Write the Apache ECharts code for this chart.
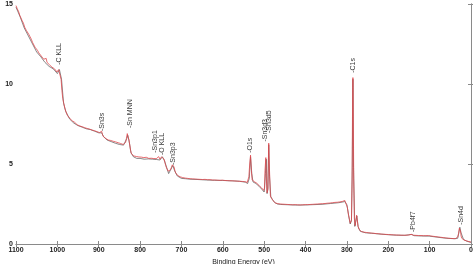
<!DOCTYPE html>
<html>
<head>
<meta charset="utf-8">
<script src="https://cdn.jsdelivr.net/npm/echarts@6/dist/echarts.min.js"></script>
<style>html,body{margin:0;padding:0;background:#fff;}#c{width:473px;height:264px;}</style>
</head>
<body>
<div id="c"></div>
<script>
// Binding energy (eV) / intensity (cts, x10^4) for the red spectrum
const redE = [1100,1097,1094,1091,1088,1085,1082,1079,1077,1075,1072,1069,1066,1063,1060,1057,1054,1051,1048,1045,1042,1039,1036,1033,1030,1027,1025,1022,1019,1016,1013,1010,1007,1004,1001,999,997,995,993,991,989,987,985,982,979,976,973,970,967,964,961,958,955,952,949,946,943,940,937,934,931,928,925,922,919,916,913,910,907,904,901,898,895,893,891,889,886,883,880,877,874,871,868,865,862,859,856,853,850,847,844,841,838,835,833,831,829,827,825,823,821,818,815,812,809,806,803,800,797,794,791,788,785,782,779,776,773,770,767,764,761,758,755,752,750,748,746,744,742,740,738,736,734,732,730,728,726,724,722,720,718,716,714,712,709,706,703,700,697,694,691,688,685,682,679,676,673,670,667,664,661,658,655,652,649,646,643,640,637,634,631,628,625,622,619,616,613,610,607,604,601,598,595,592,589,586,583,580,577,574,571,568,565,562,559,556,553,550,547,544,541,539,537,535,533,531,529,527,524,521,518,515,512,509,506,503,501,499,498,496,495,493,491,489,487,485,482,479,476,473,470,467,464,461,458,455,452,449,446,443,440,437,434,431,428,425,422,419,416,413,410,407,404,401,398,395,392,389,386,383,380,377,374,371,368,365,362,359,356,353,350,347,344,341,338,335,332,329,326,323,320,317,314,311,308,305,302,299,296,294,292,290,289,287.5,286.5,285.5,284.5,283.5,282,280,278,276.5,275,273,271,268,265,262,259,256,253,250,247,244,241,238,235,232,229,226,223,220,217,214,211,208,205,202,199,196,193,190,187,184,181,178,175,172,169,166,163,160,157,154,151,148,145,143,141,139,136,133,130,127,124,121,118,115,112,109,106,103,100,97,94,91,88,85,82,79,76,73,70,67,64,61,58,55,52,49,46,43,40,37,34,32,30,28,27,26,25,24,22,20,17,14,11,8,5,2,0];
const redV = [14.9,14.7,14.55,14.3,14.2,13.95,13.8,13.55,13.65,13.35,13.25,13.1,12.95,12.8,12.6,12.5,12.3,12.2,12.1,11.95,11.9,11.75,11.7,11.55,11.5,11.6,11.35,11.3,11.2,11.2,11.05,11.1,10.95,10.85,10.75,10.65,10.9,11.0,10.8,10.3,9.6,9.1,8.85,8.5,8.25,8.05,7.95,7.85,7.8,7.7,7.65,7.6,7.52,7.45,7.45,7.38,7.36,7.33,7.32,7.27,7.28,7.22,7.23,7.18,7.17,7.12,7.14,7.08,7.08,7.02,7.04,6.96,7.0,7.05,6.85,6.72,6.65,6.6,6.52,6.5,6.45,6.47,6.4,6.42,6.36,6.38,6.3,6.33,6.27,6.28,6.24,6.22,6.2,6.35,6.6,6.9,6.8,6.5,6.2,5.85,5.65,5.55,5.5,5.45,5.47,5.42,5.44,5.4,5.43,5.38,5.4,5.37,5.42,5.38,5.35,5.4,5.36,5.38,5.34,5.4,5.33,5.42,5.46,5.3,5.35,5.45,5.55,5.5,5.3,5.1,4.9,4.75,4.65,4.55,4.5,4.55,4.65,4.8,4.95,5.0,4.82,4.6,4.45,4.35,4.28,4.25,4.2,4.2,4.15,4.17,4.12,4.14,4.1,4.12,4.08,4.11,4.07,4.09,4.06,4.1,4.05,4.08,4.04,4.06,4.03,4.07,4.04,4.05,4.02,4.06,4.02,4.04,4.0,4.03,4.0,4.04,3.99,4.02,3.98,4.03,3.99,4.01,3.97,4.0,3.96,3.99,3.95,3.98,3.95,3.97,3.94,3.97,3.93,3.96,3.92,3.95,3.91,3.94,3.9,3.88,3.85,3.95,4.2,5.0,5.55,4.6,4.0,3.95,3.9,3.86,3.8,3.72,3.65,3.58,3.5,3.42,3.35,3.5,4.6,5.4,4.2,3.2,3.5,6.3,4.5,3.0,2.85,2.72,2.62,2.57,2.55,2.52,2.53,2.5,2.52,2.49,2.51,2.48,2.5,2.47,2.5,2.46,2.49,2.45,2.48,2.46,2.49,2.45,2.47,2.44,2.47,2.45,2.48,2.46,2.49,2.46,2.5,2.47,2.5,2.48,2.52,2.49,2.52,2.5,2.53,2.51,2.54,2.52,2.55,2.53,2.56,2.55,2.58,2.56,2.59,2.58,2.61,2.6,2.63,2.61,2.64,2.63,2.66,2.66,2.7,2.72,2.6,2.3,1.8,1.55,1.3,1.25,1.5,4.0,8.0,10.4,8.0,4.0,1.6,1.15,1.25,1.8,1.5,1.1,0.92,0.82,0.78,0.76,0.74,0.75,0.72,0.73,0.7,0.71,0.68,0.7,0.67,0.68,0.65,0.67,0.64,0.65,0.62,0.64,0.61,0.62,0.6,0.61,0.59,0.61,0.58,0.6,0.57,0.59,0.56,0.58,0.56,0.57,0.55,0.57,0.55,0.56,0.55,0.57,0.56,0.58,0.6,0.64,0.6,0.55,0.53,0.54,0.52,0.53,0.51,0.53,0.51,0.52,0.5,0.52,0.5,0.53,0.52,0.5,0.49,0.48,0.47,0.46,0.45,0.44,0.43,0.42,0.42,0.4,0.4,0.38,0.37,0.36,0.36,0.35,0.34,0.34,0.33,0.34,0.37,0.45,0.65,1.0,1.1,0.95,0.75,0.5,0.35,0.3,0.25,0.22,0.2,0.17,0.15,0.13,0.12];
// underlying dark spectrum
const grayE = [1100,1090,1080,1070,1060,1050,1040,1030,1020,1010,1000,995,990,985,980,970,960,950,940,930,920,910,900,893,888,880,870,860,850,840,832,830,827,822,816,808,800,790,780,770,760,752,746,741,736,731,727,721,716,710,700,690,680,660,640,620,600,580,560,545,540,536,533,530,527,520,512,505,500,497,495,493,491,489,487,484,480,475,468,460,440,420,400,380,360,340,320,305,300,296,292,289,287,285.5,284,281,278,276,273,268,255,240,220,200,180,160,143,138,120,100,80,60,40,32,27,24,18,10,0];
const grayV = [14.8,14.2,13.5,13.0,12.5,12.0,11.7,11.35,11.1,10.95,10.65,10.9,10.3,8.8,8.3,7.8,7.55,7.4,7.3,7.2,7.15,7.05,6.95,6.95,6.7,6.5,6.4,6.3,6.22,6.18,6.6,6.8,6.5,5.7,5.45,5.35,5.35,5.3,5.32,5.3,5.28,5.25,5.45,5.2,4.8,4.4,4.45,4.9,4.55,4.25,4.1,4.08,4.05,4.03,4.0,3.98,3.97,3.95,3.92,3.86,3.78,4.1,5.45,4.4,3.88,3.78,3.6,3.4,3.25,4.4,5.3,3.15,3.4,6.2,4.2,2.95,2.78,2.6,2.5,2.47,2.45,2.43,2.44,2.46,2.48,2.53,2.58,2.65,2.45,1.8,1.25,1.45,4.8,10.3,4.8,1.1,1.15,1.75,1.1,0.8,0.7,0.67,0.62,0.58,0.55,0.54,0.6,0.52,0.5,0.49,0.42,0.36,0.33,0.36,1.05,0.7,0.28,0.17,0.1];
// peak annotations: label, energy, anchor height (cts)
const peakNames = ['-C KLL','-Sn3s','-Sn MNN','-Sn3p1','-O KLL','-Sn3p3','-O1s','-Sn3d3','-Sn3d5','-C1s','-Pb4f7','-Sn4d'];
const peakE = [996,892,824,763,746,720,533,499,487,286,140,24];
const peakY = [11.2,7.06,7.25,5.7,5.56,4.94,5.7,6.4,6.94,10.7,0.75,1.2];
const xTicks = [1100,1000,900,800,700,600,500,400,300,200,100,0];
const yTicks = [0,5,10,15];

const zip = (a,b)=>a.map((v,i)=>[v,b[i]]);
const chart = echarts.init(document.getElementById('c'));
const font = 'Liberation Sans, Arial, sans-serif';
const axisCommon = {
  axisLine:{show:true,lineStyle:{color:'#8a8a8a',width:1}},
  axisTick:{show:true,inside:true,length:3,lineStyle:{color:'#8a8a8a'}},
  splitLine:{show:false}
};
chart.setOption({
  animation:false,
  backgroundColor:'#fff',
  grid:{left:16,right:2,top:4,bottom:20,containLabel:false,outerBoundsMode:'none'},
  xAxis:[
    Object.assign({type:'value',min:0,max:1100,interval:100,inverse:true,position:'bottom',
      name:'Binding Energy (eV)',nameLocation:'middle',nameGap:10,
      nameTextStyle:{fontFamily:font,fontSize:7,color:'#222'},
      axisLabel:{fontFamily:font,fontSize:7,color:'#222',margin:3,fontWeight:'bold',
        formatter:v=>xTicks.includes(v)?String(v):''}},axisCommon),
    Object.assign({type:'value',min:0,max:1100,interval:100,inverse:true,position:'top',axisLabel:{show:false}},axisCommon)
  ],
  yAxis:[
    Object.assign({type:'value',min:0,max:15,interval:5,position:'left',
      name:'cts',nameLocation:'middle',nameGap:10,
      nameTextStyle:{fontFamily:font,fontSize:7,color:'#222'},
      axisLabel:{fontFamily:font,fontSize:7,color:'#222',margin:3,fontWeight:'bold',
        formatter:v=>yTicks.includes(v)?String(v):''}},axisCommon),
    Object.assign({type:'value',min:0,max:15,interval:5,position:'right',axisLabel:{show:false}},axisCommon)
  ],
  series:[
    {type:'line',data:zip(grayE,grayV),showSymbol:false,symbol:'none',
      lineStyle:{color:'#555',width:0.7},z:2},
    {type:'line',data:zip(redE,redV),showSymbol:false,symbol:'none',
      lineStyle:{color:'#e0474d',width:0.8},z:3},
    {type:'scatter',symbolSize:0,silent:true,z:5,
      data:peakE.map((e,i)=>({value:[e,peakY[i]],name:peakNames[i]})),
      label:{show:true,position:'inside',rotate:90,align:'left',verticalAlign:'middle',
        formatter:p=>p.name,fontFamily:font,fontSize:7,color:'#000'}}
  ]
});
</script>
</body>
</html>
